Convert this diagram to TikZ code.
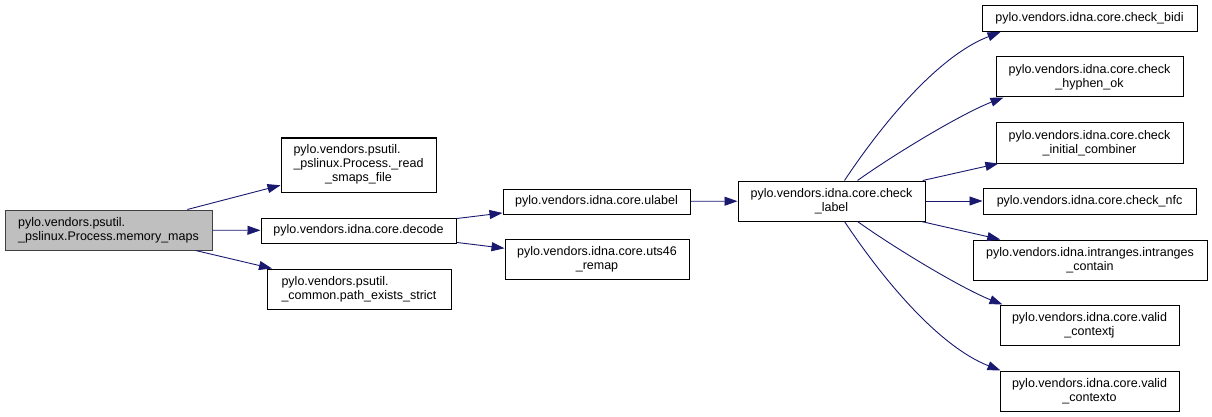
\documentclass[tikz,border=0pt]{standalone}
\usepackage{fontspec}
\setmainfont{Liberation Sans}
\usetikzlibrary{arrows.meta,calc}
\definecolor{edgeblue}{HTML}{191970}
\definecolor{rootfill}{HTML}{BFBFBF}
\definecolor{rootdraw}{HTML}{404040}
\begin{document}
\begin{tikzpicture}[x=1pt,y=-1pt,
  box/.style={rectangle, draw=black, line width=1pt, fill=white, inner sep=0pt, align=center, font=\fontsize{12.5}{14}\selectfont},
  root/.style={box, draw=rootdraw, fill=rootfill, align=left},
  edge/.style={draw=edgeblue, line width=0.9pt, -{Triangle[length=13pt,width=9pt]}}]
\useasboundingbox[fill=white] (0,0) rectangle (1212,417);

\node[root, minimum width=207, minimum height=40] (A) at (108.5,230) {pylo.vendors.psutil.\\\_pslinux.Process.memory\_maps};
\node[box, minimum width=155, minimum height=54] (B) at (358.5,165) {\begin{tabular}{@{}c@{}}\multicolumn{1}{@{}l@{}}{pylo.vendors.psutil.}\\ \_pslinux.Process.\_read\\ \_smaps\_file\end{tabular}};
\node[box, minimum width=195, minimum height=25] (C) at (358.5,230.5) {pylo.vendors.idna.core.decode};
\node[box, align=left, minimum width=184, minimum height=40] (D) at (359,289) {pylo.vendors.psutil.\\\_common.path\_exists\_strict};
\node[box, minimum width=187, minimum height=25] (E) at (596.5,201.5) {pylo.vendors.idna.core.ulabel};
\node[box, minimum width=184, minimum height=40] (F) at (597,259.5) {pylo.vendors.idna.core.uts46\\\_remap};
\node[box, minimum width=187, minimum height=40] (G) at (831.5,201) {pylo.vendors.idna.core.check\\\_label};
\node[box, minimum width=215, minimum height=26] (H) at (1089.5,18.5) {pylo.vendors.idna.core.check\_bidi};
\node[box, minimum width=187, minimum height=40] (I) at (1089.5,77) {pylo.vendors.idna.core.check\\\_hyphen\_ok};
\node[box, minimum width=187, minimum height=40] (J) at (1089.5,143) {pylo.vendors.idna.core.check\\\_initial\_combiner};
\node[box, minimum width=213, minimum height=26] (K) at (1089.5,201) {pylo.vendors.idna.core.check\_nfc};
\node[box, minimum width=234, minimum height=40] (L) at (1090,260) {pylo.vendors.idna.intranges.intranges\\\_contain};
\node[box, minimum width=179, minimum height=40] (M) at (1089.5,325) {pylo.vendors.idna.core.valid\\\_contextj};
\node[box, minimum width=179, minimum height=40] (N) at (1089.5,391) {pylo.vendors.idna.core.valid\\\_contexto};

\draw[edge] (A) -- (B);
\draw[edge] (A) -- (C);
\draw[edge] (A) -- (D);
\draw[edge] (C) -- (E);
\draw[edge] (C) -- (F);
\draw[edge] (E) -- (G);
\draw[edge] ($(G.north west)+(107,0)$) .. controls (882,124) and (938,56) .. ($(H.south west)+(19,0)$);
\draw[edge] ($(G.north west)+(120,0)$) .. controls (896,153) and (963,113) .. ($(I.south west)+(8,0)$);
\draw[edge] (G) -- (J);
\draw[edge] (G) -- (K);
\draw[edge] (G) -- (L);
\draw[edge] ($(G.south west)+(120,0)$) .. controls (896,249) and (963,289) .. ($(M.north west)+(3,0)$);
\draw[edge] ($(G.south west)+(107,0)$) .. controls (882,278) and (938,346) .. ($(N.north west)+(1,0)$);
\end{tikzpicture}
\end{document}
